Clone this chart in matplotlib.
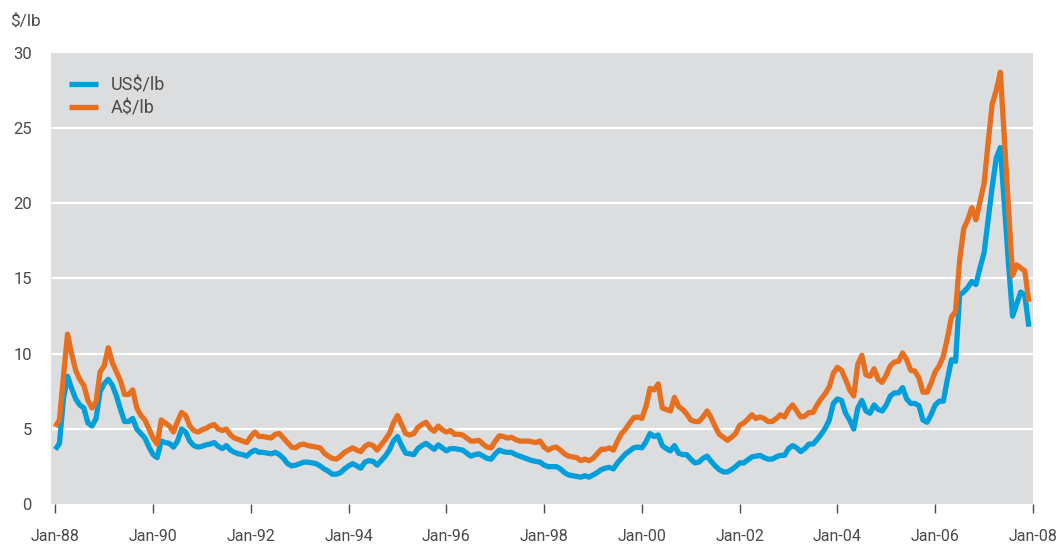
import numpy as np
import matplotlib
matplotlib.use("Agg")
import matplotlib.pyplot as plt

plt.rcParams['font.family'] = ['Roboto', 'DejaVu Sans']

# monthly prices, Jan-88 .. Dec-07 (one row per year)
us_lb = [
    3.64, 4.04, 7.0, 8.5, 7.7, 7.0, 6.6, 6.4, 5.4, 5.2, 5.7, 7.5,        # 1988
    8.0, 8.3, 7.9, 7.2, 6.3, 5.5, 5.5, 5.7, 5.0, 4.7, 4.4, 3.8,          # 1989
    3.3, 3.1, 4.2, 4.1, 4.05, 3.8, 4.2, 5.0, 4.8, 4.2, 3.9, 3.8,         # 1990
    3.85, 3.95, 4.0, 4.1, 3.85, 3.7, 3.9, 3.6, 3.45, 3.35, 3.3, 3.2,     # 1991
    3.45, 3.6, 3.45, 3.45, 3.4, 3.35, 3.45, 3.3, 3.05, 2.7, 2.55, 2.6,   # 1992
    2.7, 2.8, 2.8, 2.75, 2.7, 2.55, 2.35, 2.2, 2.0, 2.0, 2.1, 2.35,      # 1993
    2.55, 2.7, 2.55, 2.4, 2.8, 2.9, 2.85, 2.6, 2.9, 3.2, 3.6, 4.2,       # 1994
    4.5, 3.9, 3.4, 3.35, 3.3, 3.7, 3.9, 4.05, 3.85, 3.65, 3.95, 3.75,    # 1995
    3.55, 3.7, 3.7, 3.65, 3.6, 3.4, 3.2, 3.3, 3.35, 3.2, 3.05, 3.0,      # 1996
    3.35, 3.6, 3.5, 3.45, 3.45, 3.3, 3.2, 3.1, 3.0, 2.9, 2.85, 2.8,      # 1997
    2.6, 2.5, 2.5, 2.5, 2.35, 2.1, 1.95, 1.9, 1.85, 1.8, 1.9, 1.8,       # 1998
    1.95, 2.1, 2.3, 2.4, 2.45, 2.35, 2.75, 3.05, 3.35, 3.55, 3.75, 3.8,  # 1999
    3.75, 4.15, 4.7, 4.5, 4.6, 3.9, 3.7, 3.55, 3.9, 3.4, 3.3, 3.3,       # 2000
    3.0, 2.75, 2.8, 3.05, 3.2, 2.85, 2.55, 2.3, 2.15, 2.15, 2.3, 2.5,    # 2001
    2.75, 2.75, 2.95, 3.15, 3.2, 3.25, 3.1, 3.0, 3.0, 3.15, 3.25, 3.25,  # 2002
    3.7, 3.9, 3.75, 3.5, 3.7, 4.0, 4.0, 4.3, 4.65, 5.05, 5.6, 6.7,       # 2003
    7.0, 6.9, 6.05, 5.6, 5.0, 6.4, 6.9, 6.2, 6.05, 6.6, 6.3, 6.2,        # 2004
    6.6, 7.2, 7.4, 7.4, 7.75, 7.0, 6.7, 6.7, 6.55, 5.6, 5.45, 5.95,      # 2005
    6.6, 6.85, 6.85, 8.3, 9.6, 9.5, 13.9, 14.1, 14.4, 14.8, 14.6, 15.7,  # 2006
    16.7, 18.9, 21.1, 23.0, 23.7, 19.8, 16.0, 12.5, 13.3, 14.1, 13.9, 11.8,  # 2007
]

aud_lb = [
    5.15, 5.6, 8.5, 11.3, 10.0, 8.9, 8.3, 7.9, 6.9, 6.4, 6.8, 8.8,       # 1988
    9.2, 10.4, 9.4, 8.8, 8.2, 7.3, 7.3, 7.6, 6.4, 5.9, 5.6, 5.0,         # 1989
    4.4, 4.0, 5.6, 5.4, 5.2, 4.8, 5.5, 6.1, 5.9, 5.2, 4.9, 4.8,          # 1990
    4.95, 5.05, 5.2, 5.3, 5.0, 4.9, 5.0, 4.6, 4.4, 4.3, 4.2, 4.1,        # 1991
    4.5, 4.8, 4.5, 4.5, 4.45, 4.4, 4.65, 4.7, 4.4, 4.1, 3.8, 3.75,       # 1992
    3.95, 4.0, 3.9, 3.85, 3.8, 3.75, 3.4, 3.2, 3.05, 3.0, 3.2, 3.45,     # 1993
    3.6, 3.75, 3.6, 3.5, 3.85, 4.0, 3.9, 3.6, 3.95, 4.3, 4.7, 5.4,       # 1994
    5.9, 5.3, 4.7, 4.6, 4.7, 5.1, 5.3, 5.45, 5.05, 4.85, 5.2, 4.95,      # 1995
    4.8, 4.9, 4.65, 4.65, 4.6, 4.4, 4.2, 4.2, 4.25, 4.0, 3.8, 3.75,      # 1996
    4.2, 4.55, 4.5, 4.4, 4.45, 4.3, 4.2, 4.2, 4.2, 4.15, 4.1, 4.2,       # 1997
    3.8, 3.6, 3.75, 3.8, 3.6, 3.35, 3.2, 3.15, 3.1, 2.9, 3.0, 2.9,       # 1998
    3.05, 3.35, 3.65, 3.65, 3.75, 3.6, 4.2, 4.7, 5.0, 5.4, 5.75, 5.8,    # 1999
    5.7, 6.5, 7.7, 7.6, 8.0, 6.4, 6.3, 6.2, 7.1, 6.5, 6.3, 6.0,          # 2000
    5.6, 5.5, 5.5, 5.8, 6.2, 5.75, 5.15, 4.65, 4.45, 4.25, 4.45, 4.7,    # 2001
    5.25, 5.4, 5.65, 5.95, 5.7, 5.8, 5.7, 5.5, 5.5, 5.7, 5.95, 5.8,      # 2002
    6.3, 6.6, 6.2, 5.8, 5.85, 6.1, 6.1, 6.6, 7.0, 7.35, 7.8, 8.7,        # 2003
    9.1, 8.9, 8.3, 7.6, 7.2, 9.3, 9.9, 8.6, 8.5, 9.0, 8.3, 8.1,          # 2004
    8.6, 9.2, 9.45, 9.5, 10.05, 9.6, 8.9, 8.85, 8.4, 7.45, 7.45, 8.05,   # 2005
    8.8, 9.2, 9.85, 11.05, 12.45, 12.8, 16.2, 18.3, 18.9, 19.7, 18.9, 20.1,  # 2006
    21.3, 24.0, 26.6, 27.5, 28.7, 24.2, 19.7, 15.2, 15.9, 15.7, 15.5, 13.45,  # 2007
]

tick_labels = ['Jan-88', 'Jan-90', 'Jan-92', 'Jan-94', 'Jan-96', 'Jan-98',
               'Jan-00', 'Jan-02', 'Jan-04', 'Jan-06', 'Jan-08']

blue = '#009fdb'
orange = '#e6701f'
text_col = '#4a4a4a'

months = np.arange(len(us_lb))

fig = plt.figure(figsize=(10.59, 5.45), dpi=100)
ax = fig.add_axes([0.0479, 0.0747, 0.9275, 0.8286])
ax.set_facecolor('#dcdddf')
for s in ax.spines.values():
    s.set_visible(False)

for v in [5, 10, 15, 20, 25]:
    ax.axhline(v, xmin=0.0027, xmax=1, color='white', lw=1.6, zorder=1)

ax.plot(months, us_lb, color=blue, lw=3.8, label='US$/lb',
        solid_joinstyle='round', solid_capstyle='butt', zorder=3)
ax.plot(months, aud_lb, color=orange, lw=3.8, label='A$/lb',
        solid_joinstyle='round', solid_capstyle='butt', zorder=3)

ax.set_xlim(-1.13, 240)
ax.set_ylim(0, 30)
ax.set_xticks(np.arange(0, 241, 24))
ax.set_xticklabels(tick_labels)
ax.set_yticks(np.arange(0, 31, 5))
ax.tick_params(axis='x', direction='out', length=6.5, width=1.0, color=text_col,
               pad=11, labelsize=11.5, labelcolor=text_col)
ax.tick_params(axis='y', length=0, pad=13.5, labelsize=12, labelcolor=text_col)

leg = ax.legend(loc='upper left', bbox_to_anchor=(0.0185, 0.948), frameon=False,
                borderpad=0, borderaxespad=0, handlelength=1.6, handletextpad=0.7,
                labelspacing=0.3, fontsize=13)
for t in leg.get_texts():
    t.set_color(text_col)

fig.text(10 / 1059, 1 - 21 / 545, '$/lb', ha='left', va='center',
         fontsize=12.5, color=text_col)

fig.savefig('out.png', dpi=100)
